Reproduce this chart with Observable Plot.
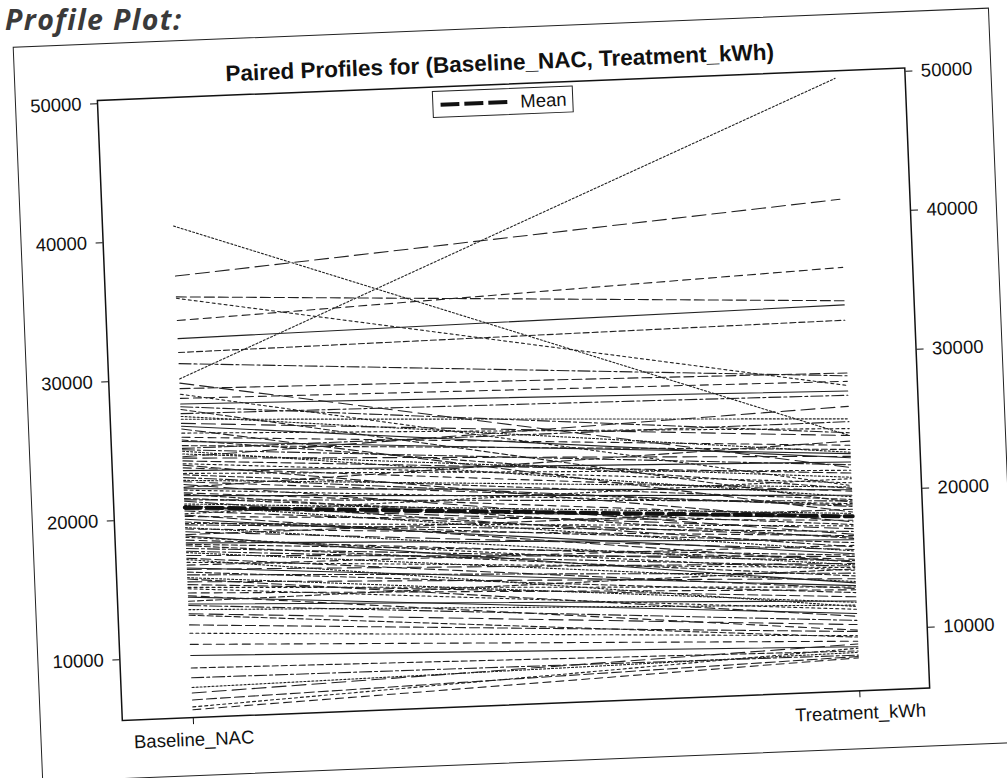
<!DOCTYPE html>
<html>
<head>
<meta charset="utf-8">
<script src="https://cdn.jsdelivr.net/npm/d3@7"></script>
<script src="https://cdn.jsdelivr.net/npm/@observablehq/plot@0.6"></script>
<style>
  html, body { margin: 0; padding: 0; background: #fff; width: 1007px; height: 778px; overflow: hidden; }
  #heading { position: absolute; left: 5px; top: 0; font: italic 700 28.5px "Open Sans", sans-serif; color: #3a3a3a; letter-spacing: 1.4px; white-space: nowrap; line-height: normal; }
  #sheet { position: absolute; left: 0; top: 0; width: 1007px; height: 778px; transform-origin: 513.75px 393.25px; transform: rotate(-2.3deg); }
  #box { position: absolute; left: 27px; top: 27px; width: 977px; height: 736px; border: 1.5px solid #222; box-sizing: border-box; }
  #title { position: absolute; left: 109px; width: 808px; top: 50px; text-align: center; font: 700 22.5px "Liberation Sans", Arial, sans-serif; color: #111; white-space: nowrap; }
  #chart { position: absolute; left: 0; top: 0; }
  #legend { position: absolute; left: 444px; top: 88px; width: 141px; height: 27px; border: 1.3px solid #222; box-sizing: border-box; background: #fff; display: flex; align-items: center; font: 18.5px "Liberation Sans", Arial, sans-serif; color: #111; }
  #legend svg { margin-left: 7px; margin-right: 12px; }
</style>
</head>
<body>
<div id="heading">Profile Plot:</div>
<div id="sheet">
  <div id="box"></div>
  <div id="title">Paired Profiles for (Baseline_NAC, Treatment_kWh)</div>
  <div id="chart"></div>
  <div id="legend"><svg width="68" height="10"><line x1="0" y1="5" x2="68" y2="5" stroke="#111" stroke-width="4" stroke-dasharray="19,5"></line></svg><span>Mean</span></div>
</div>
<script>
// The two measurement occasions
const phases = ["Baseline_NAC", "Treatment_kWh"];

// Paired observations: baseline[i] and treatment[i] belong to the same unit
const baseline = [
  41000, 37400, 35900, 35800, 34200, 32900, 31900, 31100, 30000, 29700,
  29300, 28900, 28600, 28200, 27800, 27500, 27100, 26800, 26400, 26100,
  25800, 25500, 25200, 24900, 24600, 24400, 24100, 23900, 23600, 23400,
  23100, 22900, 22700, 22400, 22200, 22000, 21800, 21600, 21400, 21200,
  21000, 20800, 20500, 20300, 20100, 19900, 19700, 19500, 19300, 19000,
  18800, 18600, 18400, 18200, 18000, 17800, 17500, 17300, 17100, 16800,
  16600, 16400, 16100, 15900, 15700, 15400, 15200, 14900, 14600, 14300,
  14000, 13700, 13400, 13100, 12300, 11700, 10900, 10100, 9200, 8500,
  7800, 7400, 6900, 6400, 6200, 26600, 25600, 25000, 24800, 24300,
  23800, 23200, 22600, 22100, 21700, 21300, 20900, 20600, 20200, 19600,
  19200, 18700, 18100, 17600, 17000, 16300, 15600, 15000, 14400, 13800,
  13000, 28000, 27300
];
const treatment = [
  24000, 41000, 33700, 27600, 36100, 33400, 32300, 28300, 49700, 21700,
  28500, 20400, 27900, 27200, 19200, 26900, 25200, 24000, 18500, 24500,
  23300, 22700, 23000, 21900, 21000, 26100, 21300, 20600, 20000, 22100,
  19400, 18900, 20300, 16900, 23600, 19100, 18200, 19700, 17600, 16000,
  18400, 17300, 16700, 20900, 17900, 15500, 16300, 17100, 14700, 15800,
  18700, 14300, 15100, 16500, 13900, 15000, 13500, 15300, 13000, 14500,
  16100, 13200, 12700, 14100, 12000, 13700, 12400, 11500, 12900, 11200,
  14400, 10700, 11800, 10400, 9900, 9600, 9200, 8800, 8500, 8200,
  8400, 9000, 8100, 8700, 8000, 22400, 20200, 25000, 19600, 22500,
  17800, 21500, 19000, 20100, 16600, 19300, 15700, 18100, 14900, 17500,
  16800, 13400, 15400, 14600, 11700, 14800, 11000, 13100, 10000, 12100,
  9500, 24200, 22800
];

const yTicks = [10000, 20000, 30000, 40000, 50000];

// Line patterns cycled over the individual profiles (null = solid)
const dashPatterns = ["2,2", "14,6", "10,4", "3,3", "8,5", null, "6,3", "12,3,3,3"];

const profiles = baseline.flatMap((b, i) => [
  {id: i, phase: phases[0], value: b},
  {id: i, phase: phases[1], value: treatment[i]}
]);
const means = [
  {phase: phases[0], value: d3.mean(baseline)},
  {phase: phases[1], value: d3.mean(treatment)}
];

const chart = Plot.plot({
  width: 1007,
  height: 778,
  marginLeft: 109,
  marginRight: 90,
  marginTop: 83.5,
  marginBottom: 74,
  style: {fontFamily: '"Liberation Sans", Arial, sans-serif', fontSize: "18.5px", color: "#111", background: "transparent", overflow: "visible"},
  x: {type: "point", domain: phases, padding: 0.105, label: null},
  y: {domain: [5630, 50240], label: null},
  marks: [
    ...dashPatterns.map((dash, k) => Plot.line(
      profiles.filter(d => d.id % dashPatterns.length === k),
      {x: "phase", y: "value", z: "id", stroke: "#222", strokeWidth: 1.1, strokeDasharray: dash ?? undefined}
    )),
    Plot.line(means, {x: "phase", y: "value", stroke: "#111", strokeWidth: 4, strokeDasharray: "16,6"}),
    Plot.frame({stroke: "#111", strokeWidth: 1.5}),
    Plot.axisX({tickSize: 7, tickPadding: 8, stroke: "#111", fontSize: 18.5}),
    Plot.axisY({anchor: "left", ticks: yTicks, tickSize: 7, tickPadding: 9, tickFormat: d3.format("d"), fontSize: 18.5}),
    Plot.axisY({anchor: "right", ticks: yTicks, tickSize: 7, tickPadding: 9, tickFormat: d3.format("d"), fontSize: 18.5})
  ]
});
document.getElementById("chart").appendChild(chart);
</script>
</body>
</html>
